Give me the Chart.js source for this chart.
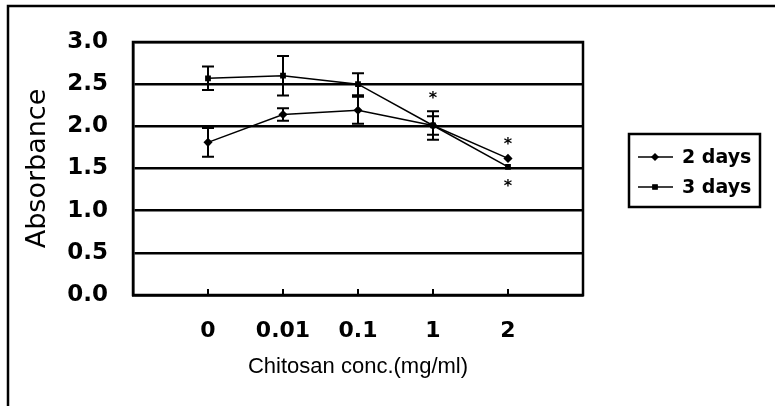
<!DOCTYPE html>
<html>
<head>
<meta charset="utf-8">
<script src="https://cdn.jsdelivr.net/npm/chart.js@4"></script>
<style>
  body { margin: 0; background: #fff; }
</style>
</head>
<body>
<canvas id="c" width="775" height="406"></canvas>
<script>
// chitosan concentrations (mg/ml)
var categories = ['0', '0.01', '0.1', '1', '2'];

var days2 = [1.81, 2.14, 2.19, 2.01, 1.62];
var days2Err = [0.17, 0.075, 0.16, 0.11, 0];
var days3 = [2.57, 2.60, 2.50, 2.01, 1.52];
var days3Err = [0.14, 0.235, 0.13, 0.17, 0];

// significance marks (*): category index and height
var starIdx = [3, 4, 4];
var starVal = [2.36, 1.82, 1.32];

var yTicks = [0, 0.5, 1, 1.5, 2, 2.5, 3];

function pts(vals) {
    return vals.map(function (v, i) { return {x: i, y: v}; });
}

var errPlugin = {
    id: 'errbars',
    afterDatasetsDraw: function (chart) {
        var ctx = chart.ctx, x = chart.scales.x, y = chart.scales.y;
        ctx.save();
        ctx.strokeStyle = '#000';
        ctx.lineWidth = 2;
        chart.data.datasets.forEach(function (ds) {
            if (!ds.err) return;
            ds.data.forEach(function (p, i) {
                var e = ds.err[i];
                if (!e) return;
                var px = x.getPixelForValue(p.x);
                var t = y.getPixelForValue(p.y + e), b = y.getPixelForValue(p.y - e);
                ctx.beginPath();
                ctx.moveTo(px, t); ctx.lineTo(px, b);
                ctx.moveTo(px - 6, t); ctx.lineTo(px + 6, t);
                ctx.moveTo(px - 6, b); ctx.lineTo(px + 6, b);
                ctx.stroke();
            });
        });
        // stars
        ctx.fillStyle = '#000';
        ctx.font = 'bold 16px "DejaVu Sans"';
        ctx.textAlign = 'center';
        ctx.textBaseline = 'middle';
        starIdx.forEach(function (c, i) {
            ctx.fillText('*', x.getPixelForValue(c), y.getPixelForValue(starVal[i]) + 3);
        });
        ctx.restore();
    },
    afterDraw: function (chart) {
        var ctx = chart.ctx, a = chart.chartArea, x = chart.scales.x;
        ctx.save();
        ctx.strokeStyle = '#000';
        // plot frame
        ctx.lineWidth = 2.5;
        ctx.strokeRect(a.left, a.top, a.right - a.left, a.bottom - a.top);
        // inward ticks on x axis
        ctx.lineWidth = 2;
        categories.forEach(function (c, i) {
            var px = x.getPixelForValue(i);
            ctx.beginPath();
            ctx.moveTo(px, a.bottom); ctx.lineTo(px, a.bottom - 6);
            ctx.stroke();
        });
        // outer frame (left and top only, rest is cropped)
        ctx.lineWidth = 2.5;
        ctx.beginPath();
        ctx.moveTo(8, 406); ctx.lineTo(8, 6); ctx.lineTo(775, 6);
        ctx.stroke();
        // legend
        ctx.lineWidth = 2.5;
        ctx.strokeRect(629, 134, 131, 73);
        ctx.font = 'bold 19px "DejaVu Sans"';
        ctx.textAlign = 'left';
        ctx.textBaseline = 'middle';
        ctx.fillStyle = '#000';
        chart.data.datasets.forEach(function (ds, i) {
            if (!ds.err) return;
            var cy = 157 + i * 30;
            ctx.lineWidth = 1.5;
            ctx.beginPath();
            ctx.moveTo(638, cy); ctx.lineTo(673, cy);
            ctx.stroke();
            Chart.helpers.drawPoint(ctx, {pointStyle: ds.pointStyle, radius: 3, borderWidth: 1}, 655, cy);
            ctx.fill();
            ctx.fillText(ds.label, 682, cy + 1);
        });
        ctx.restore();
    }
};

new Chart(document.getElementById('c'), {
    type: 'line',
    data: {
        datasets: [
            {
                label: '2 days',
                data: pts(days2),
                err: days2Err,
                borderColor: '#000',
                backgroundColor: '#000',
                borderWidth: 1.5,
                pointStyle: 'rectRot',
                pointRadius: 3.5,
                tension: 0
            },
            {
                label: '3 days',
                data: pts(days3),
                err: days3Err,
                borderColor: '#000',
                backgroundColor: '#000',
                borderWidth: 1.5,
                pointStyle: 'rect',
                pointRadius: 3,
                tension: 0
            }
        ]
    },
    options: {
        responsive: false,
        animation: false,
        layout: {padding: {top: 42, right: 192, left: 0, bottom: 0}},
        plugins: {legend: {display: false}, tooltip: {enabled: false}},
        scales: {
            x: {
                type: 'linear',
                min: -1,
                max: 5,
                afterBuildTicks: function (s) {
                    s.ticks = categories.map(function (c, i) { return {value: i}; });
                },
                afterFit: function (s) { s.height = 111; },
                grid: {display: false},
                border: {display: true, color: '#000', width: 2.5},
                ticks: {
                    autoSkip: false,
                    maxRotation: 0,
                    padding: 15,
                    color: '#000',
                    font: {family: 'DejaVu Sans', size: 22, weight: 'bold'},
                    callback: function (v) { return categories[v]; }
                },
                title: {
                    display: true,
                    text: 'Chitosan conc.(mg/ml)',
                    color: '#000',
                    font: {family: 'Liberation Sans', size: 22},
                    padding: {top: 0, bottom: 26}
                }
            },
            y: {
                min: 0,
                max: 3,
                afterBuildTicks: function (s) {
                    s.ticks = yTicks.map(function (v) { return {value: v}; });
                },
                afterFit: function (s) { s.width = 133; },
                grid: {color: '#000', lineWidth: 2.5, drawTicks: false},
                border: {display: true, color: '#000', width: 2.5},
                ticks: {
                    padding: 25,
                    color: '#000',
                    font: {family: 'DejaVu Sans', size: 23, weight: 'bold'},
                    callback: function (v) { return v.toFixed(1); }
                },
                title: {
                    display: true,
                    text: 'Absorbance',
                    color: '#000',
                    font: {family: 'DejaVu Sans', size: 27},
                    padding: {top: 22, bottom: 0}
                }
            }
        }
    },
    plugins: [errPlugin]
});
</script>
</body>
</html>
